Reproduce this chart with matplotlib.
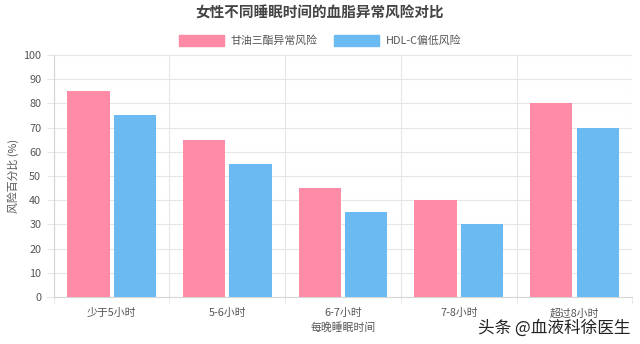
import numpy as np
import matplotlib
matplotlib.use("Agg")
import matplotlib.pyplot as plt
from matplotlib.patches import Patch

plt.rcParams["font.family"] = ["Noto Sans CJK SC", "DejaVu Sans"]

categories = ["少于5小时", "5-6小时", "6-7小时", "7-8小时", "超过8小时"]
tg_risk = [85, 65, 45, 40, 80]
hdl_risk = [75, 55, 35, 30, 70]
series_names = ["甘油三酯异常风险", "HDL-C偏低风险"]

pink = "#FF8BA6"
blue = "#6BBBF2"
grid_c = "#E6E6E6"
text_c = "#555555"

fig = plt.figure(figsize=(6.4, 3.44), dpi=100)
ax = fig.add_axes([0.084, 0.137, 0.904, 0.703])

x = np.arange(len(categories))
w = 0.365
gap = 0.018
ax.bar(x - w / 2 - gap, tg_risk, width=w, color=pink, zorder=3)
ax.bar(x + w / 2 + gap, hdl_risk, width=w, color=blue, zorder=3)

ax.set_xlim(-0.5, len(categories) - 0.5)
ax.set_ylim(0, 100)
ax.set_yticks(range(0, 101, 10))
ax.set_xticks(x)
ax.set_xticklabels(categories)
ax.set_xticks(np.arange(-0.5, len(categories)), minor=True)
ax.grid(axis="y", color=grid_c, lw=0.8, zorder=0)
ax.grid(axis="x", which="minor", color=grid_c, lw=0.8, zorder=0)
ax.tick_params(axis="x", which="major", length=0, pad=8, labelsize=7.8, colors=text_c)
ax.tick_params(axis="x", which="minor", length=5, color=grid_c)
ax.tick_params(axis="y", length=5, color=grid_c, pad=4, labelsize=7.8, colors=text_c)
for s in ["top", "right"]:
    ax.spines[s].set_visible(False)
for s in ["left", "bottom"]:
    ax.spines[s].set_color("#D5D5D5")
    ax.spines[s].set_linewidth(0.8)

ax.set_ylabel("风险百分比 (%)", fontsize=7.8, color=text_c, labelpad=3)
ax.set_xlabel("每晚睡眠时间", fontsize=7.8, color=text_c, labelpad=3)

fig.text(0.5, 0.963, "女性不同睡眠时间的血脂异常风险对比", ha="center", va="center",
         fontsize=10.5, fontweight="bold", color="#444444")

handles = [Patch(facecolor=pink, edgecolor=pink), Patch(facecolor=blue, edgecolor=blue)]
fig.legend(handles, series_names, loc="center", bbox_to_anchor=(0.5, 0.882), ncol=2,
           frameon=False, fontsize=7.8, handlelength=4.2, handleheight=1.2,
           columnspacing=1.5, handletextpad=0.6, labelcolor=text_c)

fig.text(0.985, 0.045, "头条 @血液科徐医生", ha="right", va="center",
         fontsize=12, color="#222222")

fig.savefig("out.png", dpi=100, facecolor="white")
